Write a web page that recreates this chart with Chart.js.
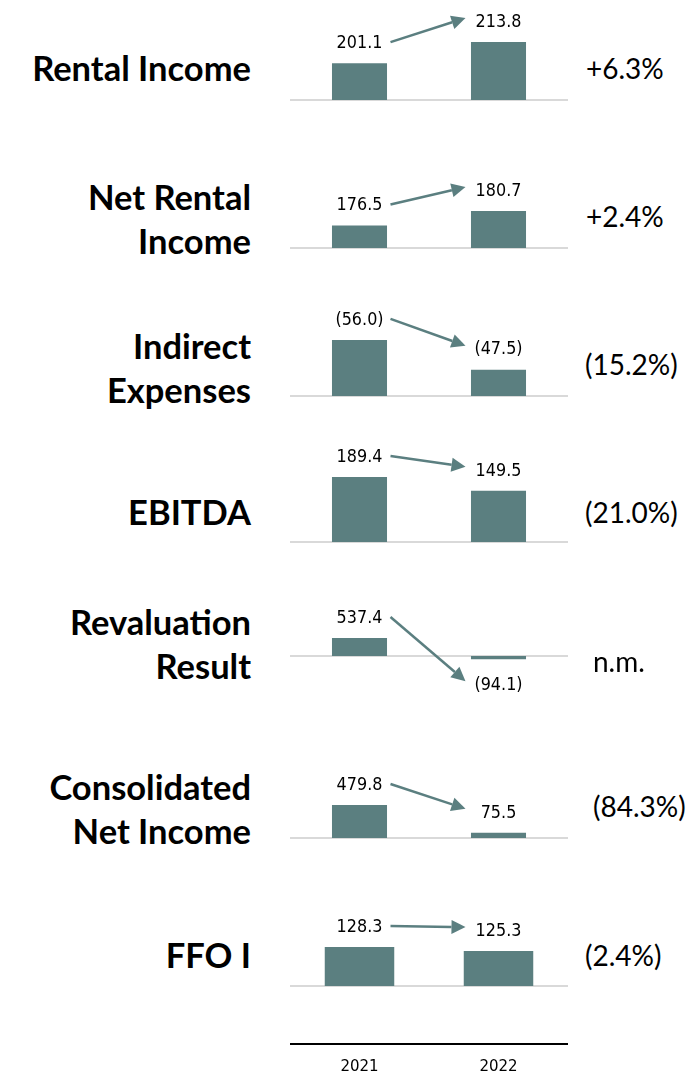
<!DOCTYPE html>
<html>
<head>
<meta charset="utf-8">
<script src="https://cdn.jsdelivr.net/npm/chart.js@4/dist/chart.umd.min.js"></script>
<style>
    body { margin: 0; background: #fff; }
    #page { position: relative; width: 695px; height: 1071px; overflow: hidden; }
    .panel { position: absolute; left: 290px; width: 278px; }
    .title {
        position: absolute; right: 444px; text-align: right; white-space: nowrap;
        font-family: Lato, "Open Sans", sans-serif; font-weight: bold; font-size: 34.5px;
        line-height: 44px; color: #000;
    }
    .change {
        position: absolute; white-space: nowrap; line-height: 30px;
        font-family: Lato, "Open Sans", sans-serif; font-size: 28px; color: #000;
    }
</style>
</head>
<body>
<div id="page"></div>
<script>
// --- data ---
const years = ['2021', '2022'];
const metrics = [
    ['Rental Income'],
    ['Net Rental', 'Income'],
    ['Indirect', 'Expenses'],
    ['EBITDA'],
    ['Revaluation', 'Result'],
    ['Consolidated', 'Net Income'],
    ['FFO I']
];
const values2021 = [201.1, 176.5, 56.0, 189.4, 537.4, 479.8, 128.3];
const values2022 = [213.8, 180.7, 47.5, 149.5, -94.1, 75.5, 125.3];
const bracketRows = [2];   // expenses are shown in brackets
const changes = ['+6.3%', '+2.4%', '(15.2%)', '(21.0%)', 'n.m.', '(84.3%)', '(2.4%)'];

// per-panel value axis: where bars start and the value at the top of the plot
const axisBase = [179, 170, 40, 0, 0, 0, 100];
const axisTop = [236, 197.5, 67.1, 277, 2836, 1381, 168.9];

// --- layout ---
const baselines = [100, 248, 396, 542, 656, 838, 986];
const titleTops = [68, 197, 346, 512, 622, 787, 955];
const changePos = [[586, 68], [586, 216], [585, 364], [585, 512], [593, 661], [593, 806], [585, 955]];
const barPct = [0.396, 0.396, 0.396, 0.396, 0.396, 0.396, 0.5];
const ABOVE = 95;
const BELOW = 45;
const LAST_BELOW = 58;   // gap from last baseline down to the year axis
const AXIS_H = 30;

const barColor = '#5b7f80';
const page = document.getElementById('page');

function fmt(v, bracket) {
    const s = Math.abs(v).toFixed(1);
    return (bracket || v < 0) ? '(' + s + ')' : s;
}

const panelPlugin = {
    id: 'panelMarks',
    beforeDatasetsDraw(chart) {
        const { ctx, chartArea, scales } = chart;
        const y = scales.y.getPixelForValue(chart.$base);
        ctx.save();
        ctx.strokeStyle = '#d9d9d9';
        ctx.lineWidth = 2;
        ctx.beginPath();
        ctx.moveTo(chartArea.left, y);
        ctx.lineTo(chartArea.right, y);
        ctx.stroke();
        ctx.restore();
    },
    afterDatasetsDraw(chart) {
        const { ctx } = chart;
        const meta = chart.getDatasetMeta(0);
        const data = chart.data.datasets[0].data;
        const pts = meta.data.map((bar, i) => {
            const neg = data[i] < chart.$base;
            return { x: bar.x, y: neg ? bar.y + 26 : bar.y - 20 };
        });
        ctx.save();
        ctx.font = '16px "DejaVu Sans", Verdana, sans-serif';
        ctx.fillStyle = '#000';
        ctx.textAlign = 'center';
        ctx.textBaseline = 'middle';
        pts.forEach((p, i) => {
            ctx.save();
            ctx.translate(p.x, p.y);
            ctx.scale(1, 1.15);
            ctx.fillText(fmt(data[i], chart.$bracket), 0, 0);
            ctx.restore();
        });

        // arrow from first label to second
        const x1 = pts[0].x + 31, y1 = pts[0].y - 1;
        const x2 = pts[1].x - 33, y2 = pts[1].y - 4;
        const ang = Math.atan2(y2 - y1, x2 - x1);
        const head = 14, half = 7;
        const bx = x2 - head * Math.cos(ang), by = y2 - head * Math.sin(ang);
        ctx.strokeStyle = barColor;
        ctx.fillStyle = barColor;
        ctx.lineWidth = 2.5;
        ctx.beginPath();
        ctx.moveTo(x1, y1);
        ctx.lineTo(bx, by);
        ctx.stroke();
        ctx.beginPath();
        ctx.moveTo(x2, y2);
        ctx.lineTo(bx + half * Math.sin(ang), by - half * Math.cos(ang));
        ctx.lineTo(bx - half * Math.sin(ang), by + half * Math.cos(ang));
        ctx.closePath();
        ctx.fill();
        ctx.restore();
    }
};

metrics.forEach((lines, i) => {
    const last = i === metrics.length - 1;
    const below = last ? LAST_BELOW : BELOW;
    const height = ABOVE + below + (last ? AXIS_H : 0);

    const wrap = document.createElement('div');
    wrap.className = 'panel';
    wrap.style.top = (baselines[i] - ABOVE) + 'px';
    wrap.style.height = height + 'px';
    const canvas = document.createElement('canvas');
    wrap.appendChild(canvas);
    page.appendChild(wrap);

    const title = document.createElement('div');
    title.className = 'title';
    title.style.top = (titleTops[i] - 22) + 'px';
    title.innerHTML = lines.join('<br>');
    page.appendChild(title);

    const chg = document.createElement('div');
    chg.className = 'change';
    chg.style.left = changePos[i][0] + 'px';
    chg.style.top = (changePos[i][1] - 15) + 'px';
    chg.textContent = changes[i];
    page.appendChild(chg);

    const base = axisBase[i];
    const pxPerUnit = ABOVE / (axisTop[i] - base);

    const chart = new Chart(canvas, {
        type: 'bar',
        data: {
            labels: years,
            datasets: [{
                data: [values2021[i], values2022[i]],
                base: base,
                backgroundColor: barColor,
                borderWidth: 0,
                categoryPercentage: 1,
                barPercentage: barPct[i]
            }]
        },
        options: {
            responsive: true,
            maintainAspectRatio: false,
            animation: false,
            layout: { padding: 0 },
            plugins: { legend: { display: false }, tooltip: { enabled: false } },
            scales: {
                y: {
                    display: false,
                    min: base - below / pxPerUnit,
                    max: axisTop[i]
                },
                x: last ? {
                    display: true,
                    grid: { display: false, drawTicks: false },
                    border: { display: true, color: '#000', width: 2 },
                    ticks: { color: '#000', padding: 14, font: { family: '"DejaVu Sans", Verdana, sans-serif', size: 15 } },
                    afterFit: (axis) => { axis.height = AXIS_H; }
                } : { display: false }
            }
        },
        plugins: [panelPlugin]
    });
    chart.$base = base;
    chart.$bracket = bracketRows.includes(i);
    chart.update();
});
</script>
</body>
</html>
